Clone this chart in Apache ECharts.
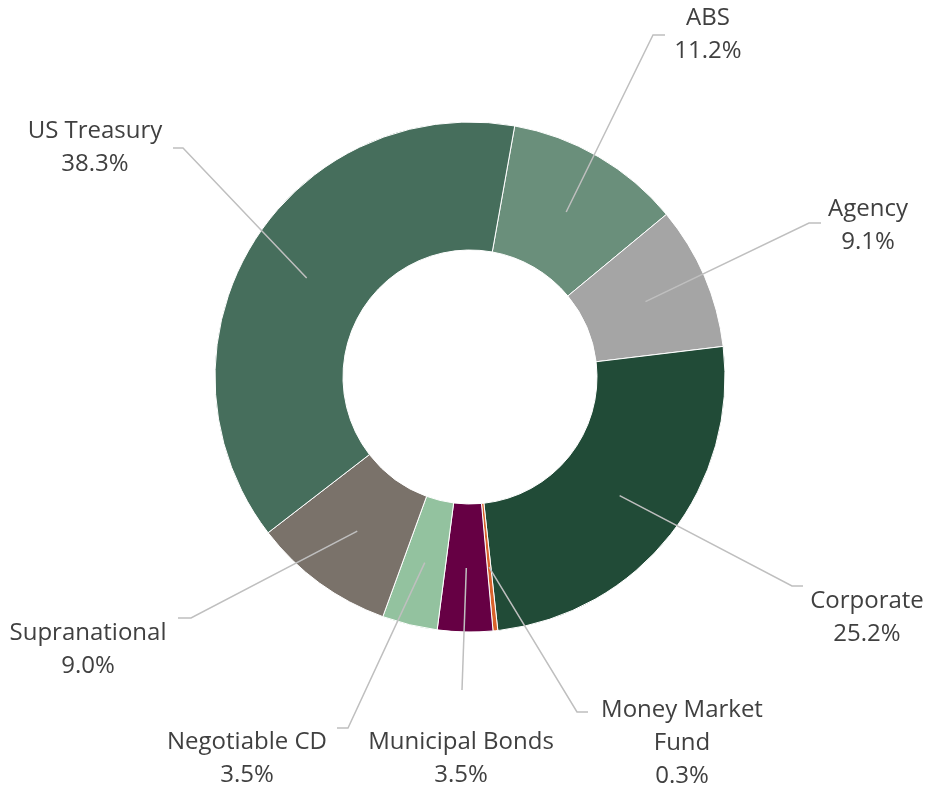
<!DOCTYPE html>
<html>
<head>
<meta charset="utf-8">
<script src="https://cdn.jsdelivr.net/npm/echarts@6/dist/echarts.min.js"></script>
<style>
  html, body { margin: 0; padding: 0; background: #fff; }
  #chart { width: 928px; height: 791px; }
</style>
</head>
<body>
<div id="chart"></div>
<script>
// 数据
var categories = ['ABS', 'Agency', 'Corporate', 'Money Market Fund', 'Municipal Bonds', 'Negotiable CD', 'Supranational', 'US Treasury']
var shares = [11.2, 9.1, 25.2, 0.3, 3.5, 3.5, 9.0, 38.3]
var colors = ['#6a8f7b', '#a5a5a5', '#214b37', '#d9622b', '#660044', '#93c29f', '#7a726a', '#466e5c']

// label placement (label block centre, leader-line elbow, tail end x)
var labelAt = [[708, 35], [868, 226], [867, 618], [682, 743], [461, 759], [247, 759], [88, 650], [95, 148]]
var elbowAt = [[653, 35], [809, 223], [792, 586], [577, 712], [462, 690], [348, 728], [191, 618], [183, 148]]
var tailX = [665, 821, 803, 588, 462, 337, 178, 173]

var cx = 470
var cy = 377
var rIn = 127
var rOut = 255
var startDeg = 10.1 // clockwise from 12 o'clock

var total = shares.reduce(function (a, b) { return a + b }, 0)
// mid angle of each slice, used for leader-line start
var midAngles = []
var acc = 0
for (var i = 0; i < shares.length; i++) {
  midAngles.push(startDeg + (acc + shares[i] / 2) / total * 360)
  acc += shares[i]
}

var pieData = categories.map(function (c, i) {
  return { name: c, value: shares[i], itemStyle: { color: colors[i] } }
})

var chart = echarts.init(document.getElementById('chart'))
var option = {
  animation: false,
  series: [
    {
      // 扇区
      type: 'pie',
      z: 2,
      center: [cx, cy],
      radius: [rIn, rOut],
      startAngle: 90 - startDeg,
      clockwise: true,
      itemStyle: {
        borderColor: '#fff',
        borderWidth: 1
      },
      label: { show: false },
      labelLine: { show: false },
      data: pieData
    },
    {
      // 标签和引导线，画在扇区上面
      type: 'pie',
      z: 3,
      silent: true,
      center: [cx, cy],
      radius: [rIn, rOut],
      startAngle: 90 - startDeg,
      clockwise: true,
      avoidLabelOverlap: false,
      itemStyle: {
        color: 'rgba(0,0,0,0)',
        borderWidth: 0
      },
      label: {
        show: true,
        position: 'outside',
        color: '#404040',
        fontSize: 24,
        lineHeight: 33,
        fontFamily: '"Open Sans", sans-serif',
        formatter: function (p) {
          var name = p.name === 'Money Market Fund' ? 'Money Market\nFund' : p.name
          return name + '\n' + p.value.toFixed(1) + '%'
        }
      },
      labelLine: {
        show: true,
        lineStyle: {
          color: '#bfbfbf',
          width: 1.5
        }
      },
      labelLayout: function (params) {
        var k = params.dataIndex
        var a = midAngles[k] * Math.PI / 180
        var rm = (rIn + rOut) / 2
        var sx = cx + rm * Math.sin(a)
        var sy = cy - rm * Math.cos(a)
        return {
          x: labelAt[k][0],
          y: labelAt[k][1],
          align: 'center',
          verticalAlign: 'middle',
          labelLinePoints: [[sx, sy], elbowAt[k], [tailX[k], elbowAt[k][1]]]
        }
      },
      data: categories.map(function (c, i) {
        return { name: c, value: shares[i] }
      })
    }
  ]
}
chart.setOption(option)
</script>
</body>
</html>
